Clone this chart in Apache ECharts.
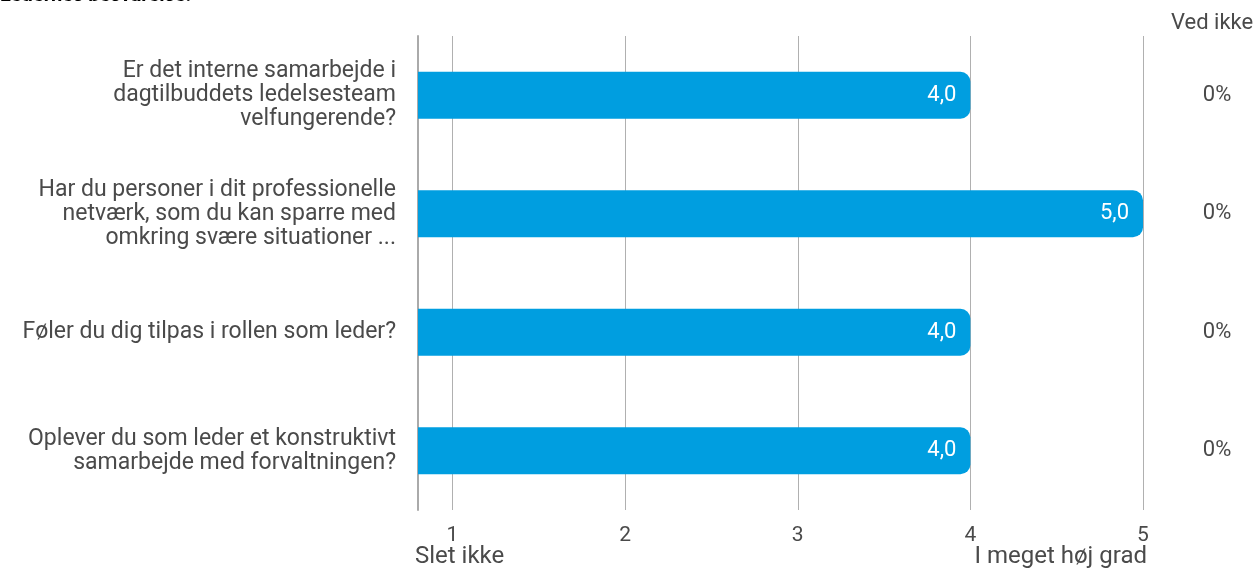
<!DOCTYPE html>
<html><head><meta charset="utf-8">
<script src="https://cdn.jsdelivr.net/npm/echarts@6/dist/echarts.min.js"></script>
<style>html,body{margin:0;padding:0;background:#fff}#c{width:1260px;height:571px}</style>
</head><body><div id="c"></div>
<script>
const title = 'Ledernes besvarelse:';
const categories = [
  'Er det interne samarbejde i\ndagtilbuddets ledelsesteam\nvelfungerende?',
  'Har du personer i dit professionelle\nnetværk, som du kan sparre med\nomkring svære situationer ...',
  'Føler du dig tilpas i rollen som leder?',
  'Oplever du som leder et konstruktivt\nsamarbejde med forvaltningen?'
];
const values = [4.0, 5.0, 4.0, 4.0];
const vedIkke = ['0%', '0%', '0%', '0%'];
const vedIkkeHeader = 'Ved ikke';
const tickValues = [1, 2, 3, 4, 5];
const scaleLow = 'Slet ikke';
const scaleHigh = 'I meget høj grad';

const chart = echarts.init(document.getElementById('c'));
const font = 'Roboto';
const txt = '#4a4a4a';
chart.setOption({
  animation: false,
  grid: {left: 418, right: 117, top: 36, bottom: 61, containLabel: false},
  xAxis: {
    type: 'value', min: 0.8, max: 5,
    axisLine: {show: false},
    axisTick: {show: false, customValues: tickValues},
    splitLine: {show: true, lineStyle: {color: '#b0b0b0', width: 1}},
    axisLabel: {customValues: tickValues, color: txt, fontFamily: font, fontSize: 21, margin: 15}
  },
  yAxis: [{
    type: 'category', data: categories, inverse: true,
    axisLine: {show: true, lineStyle: {color: '#aaa', width: 2}},
    axisTick: {show: false},
    axisLabel: {color: txt, fontFamily: font, fontSize: 23, lineHeight: 24, margin: 22, align: 'right'}
  }, {
    type: 'category', data: vedIkke, inverse: true, position: 'right',
    axisLine: {show: false}, axisTick: {show: false},
    axisLabel: {color: txt, fontFamily: font, fontSize: 22, margin: 74, align: 'center'}
  }],
  series: [{
    type: 'bar', data: values, barWidth: 47,
    itemStyle: {color: '#009ee0', borderRadius: [0, 10, 10, 0]},
    label: {show: true, position: 'insideRight', distance: 14, color: '#fff', fontFamily: font, fontSize: 22,
      formatter: p => p.value.toFixed(1).replace('.', ',')}
  }],
  graphic: [
    {type: 'text', left: 0, top: -14, style: {text: title, font: 'bold 20px Roboto', fill: '#000'}},
    {type: 'text', left: 1171, top: 12, style: {text: vedIkkeHeader, font: '22px Roboto', fill: txt}},
    {type: 'text', left: 415, top: 545, style: {text: scaleLow, font: '24px Roboto', fill: txt}},
    {type: 'text', right: 1260 - 1147, top: 545, style: {text: scaleHigh, font: '24px Roboto', fill: txt}}
  ]
});
</script></body></html>
